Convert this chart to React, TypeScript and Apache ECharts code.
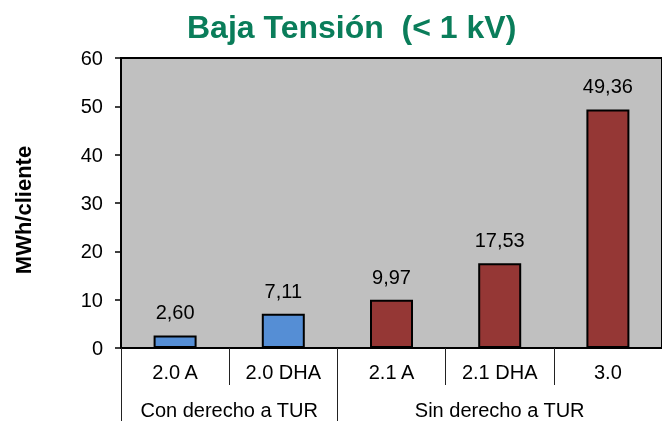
import React, { useEffect, useRef } from "react";
import * as echarts from "echarts";

const categories = ["2.0 A", "2.0 DHA", "2.1 A", "2.1 DHA", "3.0"];
const values = [2.6, 7.11, 9.97, 17.53, 49.36];
const groups = ["Con derecho a TUR", "Sin derecho a TUR"];
const groupSizes = [2, 3];
const groupColors = ["#558ED5", "#953735"];
const yTicks = [0, 10, 20, 30, 40, 50, 60];

const FONT = "'Liberation Sans', Arial, sans-serif";

export default function App() {
  const ref = useRef<HTMLDivElement>(null);
  useEffect(() => {
    if (!ref.current) return;
    const chart = echarts.init(ref.current, null, { renderer: "svg" });

    // group boundaries and centers
    const bounds: number[] = [0];
    const centers: number[] = [];
    const colorOf: string[] = [];
    let acc = 0;
    groupSizes.forEach((n, gi) => {
      centers.push(acc + n / 2);
      for (let i = 0; i < n; i++) colorOf.push(groupColors[gi]);
      acc += n;
      bounds.push(acc);
    });
    const labelMap: Record<string, string> = {};
    centers.forEach((c, i) => (labelMap[String(c)] = groups[i]));

    chart.setOption({
      animation: false,
      textStyle: { fontFamily: FONT },
      title: {
        text: "Baja Tensión  (< 1 kV)",
        left: 182,
        top: 6,
        textStyle: { fontSize: 32, fontWeight: "bold", color: "#0A7D5A", fontFamily: FONT },
      },
      grid: {
        left: 121,
        top: 58,
        right: -2,
        bottom: 73,
        show: true,
        backgroundColor: "#C0C0C0",
        borderColor: "#000",
        borderWidth: 2,
      },
      xAxis: [
        {
          type: "category",
          data: categories,
          position: "bottom",
          axisLine: { show: true, lineStyle: { color: "#000", width: 2 } },
          axisTick: { show: true, interval: 0, length: 37, lineStyle: { color: "#222", width: 1 } },
          axisLabel: { interval: 0, fontSize: 20, color: "#000", margin: 14, fontFamily: FONT },
          splitLine: { show: false },
        },
        {
          type: "value",
          min: 0,
          max: categories.length,
          position: "bottom",
          axisLine: { show: false },
          splitLine: { show: false },
          axisTick: {
            show: true,
            customValues: bounds.slice(0, -1),
            length: 73,
            lineStyle: { color: "#222", width: 1 },
          },
          axisLabel: {
            customValues: centers,
            fontSize: 20,
            color: "#000",
            margin: 52,
            fontFamily: FONT,
            formatter: (v: number) => labelMap[String(v)] ?? "",
          },
        },
      ],
      yAxis: {
        type: "value",
        min: yTicks[0],
        max: yTicks[yTicks.length - 1],
        interval: 10,
        name: "MWh/cliente",
        nameLocation: "middle",
        nameRotate: 90,
        nameGap: 87,
        nameTextStyle: {
          fontSize: 22,
          fontWeight: "bold",
          color: "#000",
          fontFamily: FONT,
          padding: [0, 14, 0, 0],
        },
        axisLine: { show: true, lineStyle: { color: "#000", width: 2 } },
        axisTick: { show: true, inside: false, length: 6, lineStyle: { color: "#000", width: 1.5 } },
        axisLabel: { fontSize: 20, color: "#000", margin: 18, fontFamily: FONT },
        splitLine: { show: false },
      },
      series: [
        {
          type: "bar",
          xAxisIndex: 0,
          barWidth: 43,
          data: values.map((v, i) => ({
            value: v,
            itemStyle: { color: colorOf[i], borderColor: "#000", borderWidth: 2 },
          })),
          label: {
            show: true,
            position: "top",
            distance: 13,
            fontSize: 20,
            color: "#000",
            fontFamily: FONT,
            formatter: (p: any) => Number(p.value).toFixed(2).replace(".", ","),
          },
        },
      ],
    });
    return () => chart.dispose();
  }, []);
  return (
    <div
      ref={ref}
      style={{ position: "fixed", left: 0, top: 0, width: 662, height: 421 }}
    />
  );
}
